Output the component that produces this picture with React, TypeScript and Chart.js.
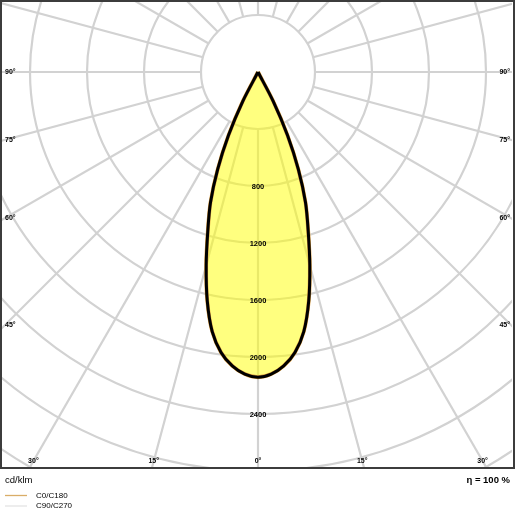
import { useEffect, useRef } from 'react';
import { Chart, registerables } from 'chart.js';

Chart.register(...registerables);

// ---- data (cd/klm) ----
const GAMMA_DEG = [0, 2.5, 5, 7.5, 10, 12.5, 15, 17.5, 20, 22.5, 25, 27.5, 30];
const C0_C180 = [2142, 2122, 2070, 1985, 1850, 1645, 1405, 1172, 975, 740, 490, 230, 0];
const C90_C270 = [2138, 2118, 2066, 1980, 1845, 1640, 1400, 1168, 970, 736, 486, 226, 0];
const RING_VALUES = [400, 800, 1200, 1600, 2000, 2400, 2800, 3200, 3600];
const RING_LABELS = [800, 1200, 1600, 2000, 2400];
const SPOKE_ANGLES = [0, 15, 30, 45, 60, 75, 90, 105, 120, 135, 150, 165, 180, 195, 210, 225, 240, 255, 270, 285, 300, 315, 330, 345];
const SIDE_ANGLE_LABELS = [90, 75, 60, 45];
const BOTTOM_ANGLE_LABELS = [-30, -15, 0, 15, 30];
const UNIT_LABEL = 'cd/klm';
const EFFICIENCY_LABEL = 'η = 100 %';
const SERIES_NAMES = ['C0/C180', 'C90/C270'];

// ---- layout ----
const W = 515;
const H = 515;
const PAD = { left: 2, right: 3, top: 2, bottom: 48 };
const CENTER_PX = { x: 258, y: 72 };
const PX_PER_UNIT = 57 / 400;

const rad = (d: number) => (d * Math.PI) / 180;

function toPoints(values: number[]) {
  const pts: { x: number; y: number }[] = [];
  for (let i = values.length - 1; i >= 0; i--) {
    const g = -GAMMA_DEG[i];
    pts.push({ x: values[i] * Math.sin(rad(g)), y: -values[i] * Math.cos(rad(g)) });
  }
  for (let i = 1; i < values.length; i++) {
    const g = GAMMA_DEG[i];
    pts.push({ x: values[i] * Math.sin(rad(g)), y: -values[i] * Math.cos(rad(g)) });
  }
  return pts;
}

const FONT = '"Liberation Sans", Arial, sans-serif';

const gridPlugin = {
  id: 'ldcGrid',
  beforeDatasetsDraw(chart: any) {
    const { ctx, chartArea: a, scales } = chart;
    const xs = scales.x;
    const ys = scales.y;
    const px = (vx: number, vy: number) => [xs.getPixelForValue(vx), ys.getPixelForValue(vy)];
    const [cx, cy] = px(0, 0);
    ctx.save();
    ctx.beginPath();
    ctx.rect(a.left, a.top, a.right - a.left, a.bottom - a.top);
    ctx.clip();
    ctx.strokeStyle = '#d2d2d2';
    ctx.lineWidth = 2.2;
    for (const v of RING_VALUES) {
      const r = xs.getPixelForValue(v) - cx;
      ctx.beginPath();
      ctx.arc(cx, cy, r, 0, Math.PI * 2);
      ctx.stroke();
    }
    const r0 = RING_VALUES[0];
    const r1 = 6000;
    for (const ang of SPOKE_ANGLES) {
      const s = Math.sin(rad(ang));
      const c = Math.cos(rad(ang));
      const [x0, y0] = px(r0 * s, -r0 * c);
      const [x1, y1] = px(r1 * s, -r1 * c);
      ctx.beginPath();
      ctx.moveTo(x0, y0);
      ctx.lineTo(x1, y1);
      ctx.stroke();
    }
    ctx.restore();
  },
  afterDraw(chart: any) {
    const { ctx, chartArea: a, scales } = chart;
    const xs = scales.x;
    const ys = scales.y;
    const cx = xs.getPixelForValue(0);
    const cy = ys.getPixelForValue(0);
    ctx.save();
    // ring value labels
    ctx.fillStyle = '#000';
    ctx.font = `bold 7.5px ${FONT}`;
    ctx.textAlign = 'center';
    ctx.textBaseline = 'middle';
    for (const v of RING_LABELS) {
      ctx.fillText(String(v), cx, ys.getPixelForValue(-v) + 1);
    }
    // side angle labels
    ctx.font = `bold 7px ${FONT}`;
    const sideX = 5;
    for (const g of SIDE_ANGLE_LABELS) {
      const dx = cx - sideX;
      const yy = cy + (g === 90 ? 0 : dx / Math.tan(rad(g)));
      ctx.textAlign = 'left';
      ctx.fillText(`${g}°`, sideX, yy);
      ctx.textAlign = 'right';
      ctx.fillText(`${g}°`, W - sideX, yy);
    }
    // bottom angle labels
    const labY = a.bottom - 6;
    ctx.textAlign = 'center';
    for (const g of BOTTOM_ANGLE_LABELS) {
      const xx = cx + (labY - cy) * Math.tan(rad(g));
      ctx.fillText(`${Math.abs(g)}°`, xx, labY);
    }
    // frame
    ctx.strokeStyle = '#3c3c3c';
    ctx.lineWidth = 2;
    ctx.strokeRect(1, 1, W - 2, a.bottom);
    // bottom texts
    ctx.fillStyle = '#000';
    ctx.font = `9.5px ${FONT}`;
    ctx.textAlign = 'left';
    ctx.fillText(UNIT_LABEL, 5, 480);
    ctx.font = `bold 9.5px ${FONT}`;
    ctx.textAlign = 'right';
    ctx.fillText(EFFICIENCY_LABEL, W - 5, 480);
    // legend
    const legendColors = ['#d9ad68', '#e4e4e4'];
    const legendY = [495.5, 506];
    ctx.font = `8px ${FONT}`;
    ctx.textAlign = 'left';
    SERIES_NAMES.forEach((name, i) => {
      ctx.strokeStyle = legendColors[i];
      ctx.lineWidth = 1.3;
      ctx.beginPath();
      ctx.moveTo(5, legendY[i]);
      ctx.lineTo(27, legendY[i]);
      ctx.stroke();
      ctx.fillStyle = '#000';
      ctx.fillText(name, 36, legendY[i]);
    });
    ctx.restore();
  },
};

export default function App() {
  const ref = useRef<HTMLCanvasElement>(null);
  useEffect(() => {
    const canvas = ref.current!;
    const areaW = W - PAD.left - PAD.right;
    const areaH = H - PAD.top - PAD.bottom;
    const cxA = CENTER_PX.x - PAD.left;
    const cyA = CENTER_PX.y - PAD.top;
    const chart = new Chart(canvas, {
      type: 'scatter',
      data: {
        datasets: [
          {
            label: 'outline',
            data: toPoints(C0_C180),
            showLine: true,
            borderColor: '#000',
            borderWidth: 3,
            pointRadius: 0,
            tension: 0.3,
            fill: false,
          },
          {
            label: SERIES_NAMES[0],
            data: toPoints(C0_C180),
            showLine: true,
            borderColor: '#e0a040',
            borderWidth: 3.8,
            pointRadius: 0,
            tension: 0.3,
            fill: 'shape',
            backgroundColor: 'rgba(255,255,0,0.5)',
          },
          {
            label: SERIES_NAMES[1],
            data: toPoints(C90_C270),
            showLine: true,
            borderColor: '#e8e8e8',
            borderWidth: 1,
            pointRadius: 0,
            tension: 0.3,
            fill: false,
          },
        ],
      } as any,
      options: {
        animation: false,
        responsive: false,
        maintainAspectRatio: false,
        devicePixelRatio: 1,
        layout: { padding: PAD },
        plugins: { legend: { display: false }, tooltip: { enabled: false } },
        events: [],
        scales: {
          x: {
            type: 'linear',
            display: false,
            min: -cxA / PX_PER_UNIT,
            max: (areaW - cxA) / PX_PER_UNIT,
          },
          y: {
            type: 'linear',
            display: false,
            min: -(areaH - cyA) / PX_PER_UNIT,
            max: cyA / PX_PER_UNIT,
          },
        },
      } as any,
      plugins: [gridPlugin],
    });
    return () => chart.destroy();
  }, []);
  return (
    <div style={{ position: 'absolute', left: 0, top: 0, width: W, height: H, background: '#fff' }}>
      <canvas ref={ref} width={W} height={H} style={{ display: 'block', width: W, height: H }} />
    </div>
  );
}
